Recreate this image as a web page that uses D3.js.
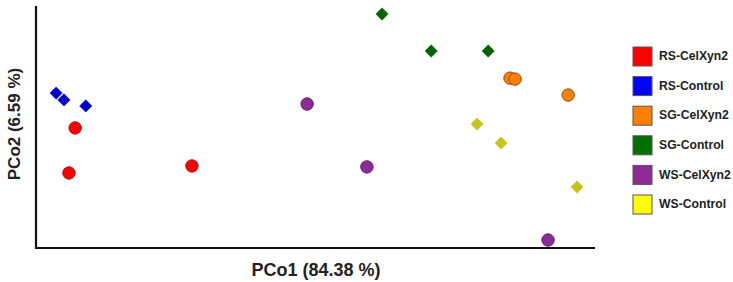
<!DOCTYPE html>
<html>
<head>
<meta charset="utf-8">
<script src="https://cdn.jsdelivr.net/npm/d3@7"></script>
<style>
  body { margin: 0; background: #fff; }
  text { font-family: Arial, "Liberation Sans", sans-serif; font-weight: bold; }
</style>
</head>
<body>
<div id="canvas"></div>
<script>
"use strict";

/**** CONFIGURATION ****/
let svgWidth = 733;
let svgHeight = 282;

let plotLeft = 36;
let plotRight = 595;
let plotTop = 6;
let plotBottom = 248;

/**** DATA ****/
let groups = ["RS-CelXyn2", "RS-Control", "SG-CelXyn2", "SG-Control", "WS-CelXyn2", "WS-Control"];
let groupShapes = ["circle", "diamond", "circle", "diamond", "circle", "diamond"];
let groupFill = ["#ff0000", "#0000cc", "#ff7f00", "#006400", "#8e2a98", "#c4c41c"];
let groupStroke = ["#9a1010", "#0000cc", "#8a4a10", "#006400", "#5a1a60", "#c4c41c"];
let legendFill = ["#ff0000", "#0000ff", "#ff7f00", "#007000", "#8e2a98", "#ffff00"];

let pco1 = {
    "RS-CelXyn2": [0.070, 0.059, 0.279],
    "RS-Control": [0.036, 0.050, 0.089],
    "SG-CelXyn2": [0.848, 0.857, 0.952],
    "SG-Control": [0.619, 0.707, 0.809],
    "WS-CelXyn2": [0.485, 0.592, 0.916],
    "WS-Control": [0.789, 0.832, 0.968]
};
let pco2 = {
    "RS-CelXyn2": [0.496, 0.310, 0.339],
    "RS-Control": [0.640, 0.612, 0.587],
    "SG-CelXyn2": [0.702, 0.698, 0.632],
    "SG-Control": [0.967, 0.814, 0.814],
    "WS-CelXyn2": [0.595, 0.335, 0.033],
    "WS-Control": [0.512, 0.434, 0.252]
};

/**** SVG ****/
let svg = d3.select("#canvas")
    .append("svg")
    .attr("width", svgWidth)
    .attr("height", svgHeight);

/**** SCALES ****/
let xScale = d3.scaleLinear().domain([0, 1]).range([plotLeft, plotRight]);
let yScale = d3.scaleLinear().domain([0, 1]).range([plotBottom, plotTop]);

/**** AXIS LINES ****/
svg.append("path")
    .attr("d", `M${xScale(0)},${yScale(1)} L${xScale(0)},${yScale(0)} L${xScale(1)},${yScale(0)}`)
    .attr("fill", "none")
    .attr("stroke", "#111")
    .attr("stroke-width", 2.2);

/**** POINTS ****/
let diamond = d3.symbol().type(d3.symbolSquare).size(76);

groups.forEach(function(g, gi) {
    for (let i = 0; i < pco1[g].length; i++) {
        let cx = xScale(pco1[g][i]);
        let cy = yScale(pco2[g][i]);
        if (groupShapes[gi] === "circle") {
            svg.append("circle")
                .attr("cx", cx)
                .attr("cy", cy)
                .attr("r", 6.2)
                .attr("fill", groupFill[gi])
                .attr("stroke", groupStroke[gi])
                .attr("stroke-width", 1);
        } else {
            svg.append("path")
                .attr("d", diamond())
                .attr("transform", `translate(${cx},${cy}) rotate(45)`)
                .attr("fill", groupFill[gi])
                .attr("stroke", groupStroke[gi])
                .attr("stroke-width", 0.5);
        }
    }
});

/**** AXIS TITLES ****/
svg.append("text")
    .attr("x", 316)
    .attr("y", 276)
    .attr("text-anchor", "middle")
    .style("font-size", "18px")
    .attr("fill", "#222")
    .text("PCo1 (84.38 %)");

svg.append("text")
    .attr("transform", "rotate(-90)")
    .attr("x", -124)
    .attr("y", 20)
    .attr("text-anchor", "middle")
    .style("font-size", "17px")
    .attr("fill", "#222")
    .text("PCo2 (6.59 %)");

/**** LEGEND ****/
let legendX = 633;
let legendY = 47;
let legendStep = 29.6;

for (let i = 0; i < groups.length; i++) {
    svg.append("rect")
        .attr("x", legendX)
        .attr("y", legendY + i * legendStep)
        .attr("width", 19)
        .attr("height", 19)
        .attr("fill", legendFill[i])
        .attr("stroke", "#555")
        .attr("stroke-width", 1);

    svg.append("text")
        .attr("x", legendX + 26)
        .attr("y", legendY + i * legendStep + 10)
        .attr("dominant-baseline", "middle")
        .style("font-size", "12.2px")
        .attr("fill", "#222")
        .text(groups[i]);
}
</script>
</body>
</html>
